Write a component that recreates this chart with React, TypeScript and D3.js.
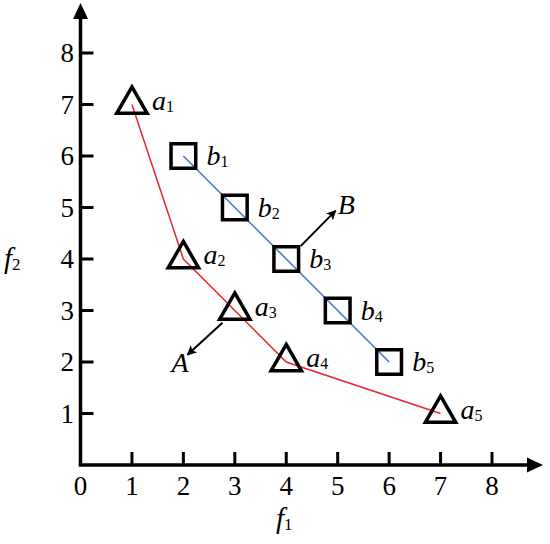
import React from "react";
import * as d3 from "d3";

const W = 550;
const H = 544;

const xTickValues = [0, 1, 2, 3, 4, 5, 6, 7, 8];
const yTickValues = [1, 2, 3, 4, 5, 6, 7, 8];

const seriesAx = [1, 2, 3, 4, 7];
const seriesAy = [7, 4, 3, 2, 1];
const seriesAsub = ["1", "2", "3", "4", "5"];

const seriesBx = [2, 3, 4, 5, 6];
const seriesBy = [6, 5, 4, 3, 2];
const seriesBsub = ["1", "2", "3", "4", "5"];

const arrowA = { label: "A", from: [2.76, 2.76], to: [2.08, 2.14], text: [1.77, 1.8] };
const arrowB = { label: "B", from: [4.28, 4.25], to: [4.96, 4.94], text: [5.0, 4.88] };

const FONT = "'Liberation Serif', 'DejaVu Serif', serif";

export default function App() {
  const x = d3.scaleLinear().domain([0, 8]).range([80.5, 492]);
  const y = d3.scaleLinear().domain([0, 8]).range([465, 53]);

  const ptsA = seriesAx.map((v, i) => ({ x: v, y: seriesAy[i], s: seriesAsub[i] }));
  const ptsB = seriesBx.map((v, i) => ({ x: v, y: seriesBy[i], s: seriesBsub[i] }));

  const line = d3
    .line<{ x: number; y: number }>()
    .x((d) => x(d.x))
    .y((d) => y(d.y));

  const tri = d3.symbol(d3.symbolTriangle, 400)()!;
  const sq = d3.symbol(d3.symbolSquare, 610)()!;

  const x0 = x(0);
  const y0 = y(0);

  const label = (
    letter: string,
    sub: string,
    px: number,
    py: number,
    size = 28,
    subSize = 16
  ) => (
    <text x={px} y={py} fontFamily={FONT} fontSize={size} fill="#000">
      <tspan fontStyle="italic">{letter}</tspan>
      <tspan fontSize={subSize} dy={2}>
        {sub}
      </tspan>
    </text>
  );

  return (
    <svg
      width={W}
      height={H}
      style={{ position: "absolute", left: 0, top: 0, background: "#fff" }}
    >
      <defs>
        <marker
          id="ah"
          viewBox="0 0 10 10"
          refX="9"
          refY="5"
          markerWidth="5"
          markerHeight="5"
          orient="auto"
        >
          <path d="M0,0 L10,5 L0,10 L2.5,5 Z" fill="#000" />
        </marker>
      </defs>

      {/* axes */}
      <line x1={x0} y1={y0} x2={x0} y2={16} stroke="#000" strokeWidth={3.5} />
      <path d={`M${x0},3 L${x0 - 7.5},19 L${x0 + 7.5},19 Z`} fill="#000" />
      <line x1={x0 - 1.75} y1={y0} x2={530} y2={y0} stroke="#000" strokeWidth={3.5} />
      <path d={`M543,${y0} L527,${y0 - 7.5} L527,${y0 + 7.5} Z`} fill="#000" />

      {/* x ticks */}
      {xTickValues.map((t) => (
        <g key={"xt" + t}>
          {t > 0 && (
            <line x1={x(t)} y1={y0} x2={x(t)} y2={y0 - 13} stroke="#000" strokeWidth={3} />
          )}
          <text
            x={x(t)}
            y={495}
            textAnchor="middle"
            fontFamily={FONT}
            fontSize={27}
            fill="#000"
          >
            {t}
          </text>
        </g>
      ))}

      {/* y ticks */}
      {yTickValues.map((t) => (
        <g key={"yt" + t}>
          <line x1={x0} y1={y(t)} x2={x0 + 13} y2={y(t)} stroke="#000" strokeWidth={3} />
          <text
            x={74}
            y={y(t) + 9}
            textAnchor="end"
            fontFamily={FONT}
            fontSize={27}
            fill="#000"
          >
            {t}
          </text>
        </g>
      ))}

      {/* axis titles */}
      {label("f", "1", 276, 528, 29, 17)}
      {label("f", "2", 4, 268, 29, 17)}

      {/* lines */}
      <path d={line(ptsA)!} fill="none" stroke="#e8262a" strokeWidth={1.5} />
      <path d={line(ptsB)!} fill="none" stroke="#4472c4" strokeWidth={1.5} />

      {/* markers A */}
      {ptsA.map((p, i) => (
        <g key={"a" + i}>
          <path
            d={tri}
            transform={`translate(${x(p.x)},${y(p.y)})`}
            fill="none"
            stroke="#000"
            strokeWidth={3.5}
            strokeLinejoin="miter"
          />
          {label("a", p.s, x(p.x) + 20, y(p.y) + 5)}
        </g>
      ))}

      {/* markers B */}
      {ptsB.map((p, i) => (
        <g key={"b" + i}>
          <path
            d={sq}
            transform={`translate(${x(p.x)},${y(p.y)})`}
            fill="none"
            stroke="#000"
            strokeWidth={3.5}
          />
          {label("b", p.s, x(p.x) + 23, y(p.y) + 9)}
        </g>
      ))}

      {/* annotation arrows */}
      {[arrowA, arrowB].map((a) => (
        <g key={a.label}>
          <line
            x1={x(a.from[0])}
            y1={y(a.from[1])}
            x2={x(a.to[0])}
            y2={y(a.to[1])}
            stroke="#000"
            strokeWidth={2}
            markerEnd="url(#ah)"
          />
          <text
            x={x(a.text[0])}
            y={y(a.text[1])}
            fontFamily={FONT}
            fontStyle="italic"
            fontSize={28}
            fill="#000"
          >
            {a.label}
          </text>
        </g>
      ))}
    </svg>
  );
}
